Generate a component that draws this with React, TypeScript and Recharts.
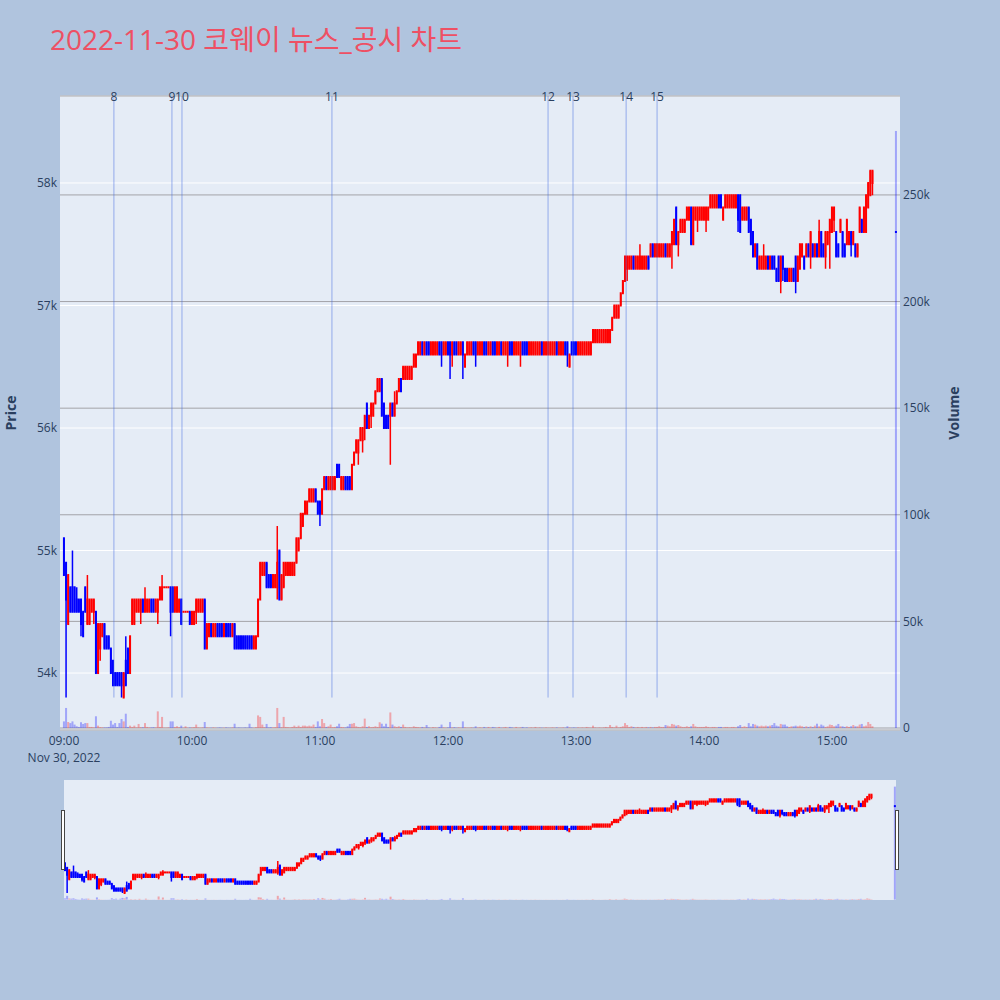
import React from 'react';
import { ComposedChart, Bar, XAxis, YAxis, ReferenceLine, CartesianGrid } from 'recharts';

const TITLE = '2022-11-30 코웨이 뉴스_공시 차트';
const SESSION_START = '09:00';

// 1-minute candles from 09:00 to 15:19, [open, high, low, close] in units of 100 won
const CANDLES: number[][] = [
  [551,551,548,548],[549,549,538,546],[544,548,544,548],[547,547,545,545],[547,550,545,545],[547,547,545,545],[546,547,545,545],[546,546,545,545],[546,546,543,544],[545,545,543,543],
  [547,547,545,545],[544,548,544,546],[544,546,544,546],[545,546,545,546],[545,546,544,546],[545,545,540,540],[540,544,540,544],[542,544,541,544],[543,544,543,544],[544,544,542,542],
  [543,543,542,542],[543,543,542,542],[542,542,540,540],[541,541,539,539],[540,540,539,539],[540,540,539,539],[540,540,539,539],[540,540,538,539],[538,540,538,540],[541,543,539,539],
  [542,542,540,540],[540,543,540,543],[544,546,544,546],[544,546,544,546],[545,546,545,546],[545,546,545,546],[545,546,544,546],[546,546,545,545],[545,547,545,546],[545,546,545,546],
  [545,546,545,546],[546,546,545,545],[546,546,545,545],[545,546,545,546],[545,546,544,546],[546,547,546,547],[546,548,546,547],[547,547,547,547],[547,547,547,547],[547,547,547,547],
  [547,547,543,545],[547,547,545,545],[545,547,545,547],[545,547,545,547],[545,546,545,546],[546,546,544,544],[545,545,545,545],[545,545,545,545],[545,545,545,545],[545,545,544,544],
  [544,545,544,545],[544,545,544,545],[545,546,544,546],[545,546,545,546],[545,546,545,546],[545,546,545,546],[546,546,542,542],[542,544,542,544],[543,544,543,544],[544,544,543,543],
  [543,544,543,544],[543,544,543,544],[544,544,543,543],[544,544,543,543],[544,544,543,543],[543,544,543,544],[544,544,543,543],[544,544,543,543],[544,544,543,543],[543,544,543,544],
  [544,544,542,542],[543,543,542,542],[543,543,542,542],[543,543,542,542],[543,543,542,542],[543,543,542,542],[543,543,542,542],[543,543,542,542],[543,543,542,542],[542,543,542,543],
  [542,543,542,543],[543,546,543,546],[546,549,546,549],[548,549,548,549],[548,549,548,549],[549,549,547,547],[548,548,547,547],[548,548,547,547],[547,548,547,548],[547,548,547,548],
  [547,552,546,549],[550,550,546,546],[546,548,546,548],[547,549,547,549],[548,549,548,549],[548,549,548,549],[548,549,548,549],[548,549,548,549],[548,549,548,549],[549,551,549,551],
  [550,551,550,551],[551,553,551,553],[552,553,552,553],[553,554,553,554],[553,554,553,554],[554,555,554,555],[554,555,554,555],[554,555,554,555],[555,555,554,554],[554,554,553,553],
  [554,554,552,553],[553,555,553,555],[555,556,555,556],[556,556,555,555],[555,556,555,556],[555,556,555,556],[555,556,555,556],[555,556,555,556],[557,557,556,556],[557,557,556,556],
  [555,556,555,556],[555,556,555,556],[556,556,555,555],[556,556,555,555],[556,556,555,555],[555,557,555,557],[557,558,557,558],[558,559,558,559],[558,559,557,559],[559,560,559,560],
  [559,560,558,560],[560,561,559,561],[562,562,560,560],[560,561,560,561],[561,562,560,562],[561,562,561,562],[562,563,562,563],[563,564,563,564],[563,564,563,564],[564,564,561,561],
  [562,562,560,560],[561,561,560,560],[561,561,560,560],[561,562,557,562],[562,562,561,561],[561,563,561,562],[562,563,562,563],[563,564,563,564],[564,564,563,563],[564,565,564,565],
  [564,565,564,565],[564,565,564,565],[564,565,564,565],[564,565,564,565],[565,566,565,566],[565,566,565,566],[566,567,566,567],[566,567,566,567],[567,567,566,566],[566,567,566,567],
  [567,567,566,566],[567,567,566,566],[566,567,566,567],[566,567,566,567],[566,567,566,567],[566,567,566,567],[567,567,566,566],[567,567,565,566],[566,567,566,567],[566,567,566,567],
  [567,567,566,566],[567,567,564,566],[566,567,565,567],[567,567,566,566],[567,567,566,566],[566,567,566,567],[566,567,566,567],[567,567,564,566],[565,566,565,566],[566,567,566,567],
  [566,567,566,567],[566,567,566,567],[567,567,566,566],[567,567,565,566],[566,567,566,567],[566,567,566,567],[566,567,566,567],[567,567,566,566],[567,567,566,566],[566,567,566,567],
  [566,567,566,567],[567,567,566,566],[567,567,566,566],[566,567,566,567],[566,567,566,567],[567,567,566,566],[566,567,566,567],[566,567,566,567],[566,567,565,567],[567,567,566,566],
  [567,567,566,566],[566,567,566,567],[566,567,566,567],[566,567,566,567],[566,567,565,567],[567,567,566,566],[567,567,566,566],[567,567,566,566],[566,567,566,567],[566,567,566,567],
  [566,567,566,567],[566,567,566,567],[566,567,566,567],[566,567,566,567],[567,567,566,566],[566,567,566,567],[566,567,566,567],[566,567,566,567],[566,567,566,567],[566,567,566,567],
  [566,567,566,567],[567,567,566,566],[566,567,566,567],[566,567,566,567],[566,567,566,567],[567,567,566,566],[567,567,565,566],[565,566,565,566],[567,567,566,566],[567,567,566,566],
  [567,567,566,566],[566,567,566,567],[566,567,566,567],[566,567,566,567],[566,567,566,567],[566,567,566,567],[566,567,566,567],[566,567,566,567],[567,568,567,568],[567,568,567,568],
  [567,568,567,568],[567,568,567,568],[567,568,567,568],[567,568,567,568],[567,568,567,568],[567,568,567,568],[567,568,567,568],[568,569,568,569],[569,570,569,570],[569,570,569,570],
  [569,570,569,570],[570,571,570,571],[571,572,571,572],[572,574,572,574],[573,574,572,574],[573,574,573,574],[573,574,573,574],[574,574,573,573],[573,574,573,574],[573,574,573,574],
  [573,575,573,574],[573,574,573,574],[573,574,573,574],[573,574,573,574],[574,574,573,573],[574,575,574,575],[575,575,574,574],[574,575,574,575],[574,575,574,575],[574,575,574,575],
  [574,575,574,575],[574,575,574,575],[575,575,574,574],[574,575,574,575],[574,575,574,575],[575,576,573,576],[575,577,575,577],[578,578,575,575],[575,576,574,576],[576,577,576,577],
  [576,577,576,577],[576,577,576,577],[577,578,577,578],[577,578,577,578],[578,578,575,575],[575,578,575,578],[577,578,577,578],[577,578,576,578],[577,578,577,578],[577,578,577,578],
  [577,578,577,578],[577,578,576,578],[577,578,577,578],[578,579,578,579],[578,579,578,579],[578,579,578,579],[578,579,578,579],[579,579,578,578],[579,579,578,578],[577,578,577,578],
  [578,579,578,579],[578,579,578,579],[578,579,578,579],[578,579,578,579],[578,579,578,579],[578,579,578,579],[579,579,576,577],[579,579,576,576],[577,578,577,578],[577,578,577,578],
  [577,578,577,578],[578,578,576,576],[577,577,575,575],[576,576,574,574],[574,575,574,575],[575,575,573,573],[573,574,573,574],[573,574,573,574],[573,575,573,574],[573,574,573,574],
  [574,574,573,573],[573,574,573,574],[574,574,573,573],[574,574,573,573],[573,573,572,572],[574,574,572,572],[572,574,571,574],[574,574,572,573],[573,573,572,572],[573,573,572,572],
  [572,573,572,573],[572,573,572,573],[573,573,572,572],[574,574,571,572],[572,574,572,574],[573,575,573,575],[574,575,574,575],[574,574,573,573],[574,575,574,575],[575,575,574,574],
  [574,576,573,576],[575,575,574,574],[574,575,574,575],[575,575,574,574],[574,577,574,576],[576,576,574,574],[575,575,574,574],[574,576,573,576],[575,576,575,576],[576,577,573,577],
  [576,578,576,578],[577,578,576,578],[576,576,574,574],[575,575,574,574],[576,577,576,577],[576,576,574,574],[575,575,574,574],[575,577,575,577],[575,576,575,576],[576,576,574,575],
  [575,576,575,576],[575,575,574,574],[574,575,574,575],[576,578,576,578],[577,577,576,576],[576,578,576,578],[576,579,576,579],[578,580,578,580],[579,581,579,581],[580,581,579,581],
];

// volume per minute, in units of 100 shares
const VOLUMES: number[] = [
  31,94,28,23,31,16,8,5,27,19,
  23,23,5,5,3,55,11,4,3,3,
  3,5,34,16,23,5,23,42,31,67,
  5,11,5,11,3,19,4,4,23,5,
  3,3,4,3,78,5,52,2,2,3,
  31,31,5,8,4,11,2,8,2,3,
  3,4,16,3,2,3,28,3,2,2,
  3,2,2,3,2,2,3,2,2,3,
  20,2,3,2,2,3,2,20,3,2,
  4,59,52,16,4,19,3,4,3,4,
  94,23,4,52,5,4,3,5,11,5,
  11,5,11,11,8,11,8,16,5,31,
  8,42,23,5,8,16,4,5,8,20,
  5,4,3,8,19,20,23,8,5,4,
  8,44,5,8,4,5,8,5,27,20,
  8,20,5,73,16,8,5,8,5,16,
  5,3,4,3,8,5,4,3,5,3,
  14,3,2,4,3,2,5,16,3,2,
  3,28,3,4,2,3,2,31,3,2,
  2,3,2,8,2,3,2,5,2,5,
  2,5,3,2,5,2,3,5,2,5,
  3,2,5,2,3,5,2,3,2,3,
  2,5,2,3,2,2,3,2,2,3,
  2,3,2,2,3,2,8,3,2,3,
  2,3,2,3,2,5,3,2,11,3,
  2,3,2,3,5,3,14,5,3,11,
  3,5,8,23,14,5,8,5,3,5,
  3,5,3,5,3,5,3,5,5,8,
  5,5,14,11,8,19,16,11,14,8,
  5,5,8,5,8,19,8,5,5,5,
  5,8,5,3,5,5,3,5,5,3,
  5,5,3,5,5,3,8,14,5,8,
  5,23,8,19,16,11,8,11,8,11,
  8,11,14,23,11,8,19,16,16,8,
  5,8,8,11,8,11,8,5,8,5,
  8,5,11,20,8,16,11,5,8,16,
  14,8,11,19,8,8,5,8,5,8,
  14,8,8,16,19,8,11,28,19,8,
];

// closing auction
const CLOSING_TIME = '15:30';
const CLOSING_CANDLE = [576, 576, 576, 576];
const CLOSING_VOLUME = 2800;

const NEWS = [
  { label: '8', time: '09:23:24' },
  { label: '9', time: '09:50:36' },
  { label: '10', time: '09:55:18' },
  { label: '11', time: '11:05:36' },
  { label: '12', time: '12:46:54' },
  { label: '13', time: '12:58:36' },
  { label: '14', time: '13:23:30' },
  { label: '15', time: '13:38:00' },
];

const TIME_TICKS = ['09:00', '10:00', '11:00', '12:00', '13:00', '14:00', '15:00'];
const PRICE_TICKS = [54000, 55000, 56000, 57000, 58000];
const VOLUME_TICKS = [0, 50000, 100000, 150000, 200000, 250000];

const RED = '#ff0000';
const BLUE = '#0000ff';
const TEXT = '#2a3f5f';
const FONT = '"Open Sans", "Noto Sans CJK KR", sans-serif';

const toMin = (s: string) => {
  const [h, m, sec = '0'] = s.split(':');
  return (Number(h) - 9) * 60 + Number(m) + Number(sec) / 60;
};

const start = toMin(SESSION_START);
const raw = [
  ...CANDLES.map((c, i) => ({ t: start + i, c, v: VOLUMES[i] })),
  { t: toMin(CLOSING_TIME), c: CLOSING_CANDLE, v: CLOSING_VOLUME },
];
const data = raw.map((r, i) => {
  const [o, h, l, c] = r.c.map((p) => p * 100);
  const prev = i > 0 ? raw[i - 1].c[3] * 100 : o;
  const up = c > o || (c === o && c >= prev);
  return { t: r.t, open: o, high: h, low: l, close: c, range: [l, h], vol: r.v * 100, up };
});

const PRICE_DOMAIN = [53535, 58710];
const VOL_DOMAIN = [-940, 296400];

// body is drawn like plotly's box: filled, with a 2px outline of the same colour
const Candle = (props: any) => {
  const { x, y, width, height, payload } = props;
  if (!payload || x == null) return null;
  const { open, close, high, low, up } = payload;
  const color = up ? RED : BLUE;
  const cx = x + width / 2;
  const top = Math.min(y, y + height);
  const h = Math.abs(height);
  const span = high - low;
  const py = (p: number) => (span === 0 ? top : top + ((high - p) / span) * h);
  const b1 = py(Math.max(open, close));
  const b2 = py(Math.min(open, close));
  return (
    <g>
      {h > 0 && <rect x={cx - 0.75} y={top} width={1.5} height={h} fill={color} />}
      <rect x={cx - 1} y={b1 - 1} width={2} height={b2 - b1 + 2} fill={color} />
    </g>
  );
};

const VolBar = (props: any) => {
  const { x, y, width, height, payload } = props;
  if (!payload || x == null) return null;
  const cx = x + width / 2;
  return (
    <rect
      x={cx - 1}
      y={Math.min(y, y + height)}
      width={2}
      height={Math.abs(height)}
      fill={payload.up ? RED : BLUE}
      fillOpacity={0.3}
    />
  );
};

const XTick = (props: any) => {
  const { x, y, payload } = props;
  const label = TIME_TICKS.find((s) => toMin(s) === payload.value) || '';
  return (
    <g>
      <text x={x} y={y + 15} textAnchor="middle" fill={TEXT} fontSize={12} fontFamily={FONT}>
        {label}
      </text>
      {payload.value === start && (
        <text x={x} y={y + 32} textAnchor="middle" fill={TEXT} fontSize={12} fontFamily={FONT}>
          Nov 30, 2022
        </text>
      )}
    </g>
  );
};

const NewsLabel = (props: any) => {
  const vb = props.viewBox || {};
  const x = vb.x1 !== undefined ? Math.min(vb.x1, vb.x2) : vb.x;
  const y = vb.y1 !== undefined ? Math.min(vb.y1, vb.y2) : vb.y;
  return (
    <text x={x} y={y + 5} textAnchor="middle" fill={TEXT} fontSize={12} fontFamily={FONT}>
      {props.value}
    </text>
  );
};

const axisTitle = (dx: number) => (props: any) => {
  const vb = props.viewBox || {};
  const cx = vb.x + dx;
  const cy = vb.y + vb.height / 2;
  return (
    <text
      x={cx}
      y={cy}
      transform={`rotate(-90, ${cx}, ${cy})`}
      textAnchor="middle"
      dominantBaseline="central"
      fill={TEXT}
      fontSize={14}
      fontWeight="bold"
      fontFamily={FONT}
    >
      {props.value}
    </text>
  );
};

const tickStyle = { fill: TEXT, fontSize: 12, fontFamily: FONT };

export default function App() {
  return (
    <div style={{ position: 'absolute', left: 0, top: 0, width: 1000, height: 1000, background: '#b0c4de', overflow: 'hidden' }}>
      <div
        style={{
          position: 'absolute',
          left: 50,
          top: 23,
          fontSize: 28,
          lineHeight: '32px',
          color: '#ee5064',
          fontFamily: FONT,
          whiteSpace: 'nowrap',
        }}
      >
        {TITLE}
      </div>

      <div style={{ position: 'absolute', left: 60, top: 96, width: 840, height: 634, background: '#e5ecf6' }} />

      <div style={{ position: 'absolute', left: 0, top: 0 }}>
        <ComposedChart width={1000} height={775} data={data} margin={{ top: 96, right: 0, bottom: 15, left: 0 }}>
          <CartesianGrid xAxisId="m" yAxisId="price" vertical={false} stroke="#ffffff" strokeWidth={1} />
          <CartesianGrid xAxisId="m" yAxisId="vol" vertical={false} stroke="#a3a3a8" strokeWidth={1} />
          <XAxis
            xAxisId="m"
            dataKey="t"
            type="number"
            domain={[-1.875, 391.875]}
            allowDataOverflow
            ticks={TIME_TICKS.map(toMin)}
            tick={<XTick />}
            tickSize={0}
            tickMargin={0}
            axisLine={false}
            tickLine={false}
            height={30}
          />
          <XAxis xAxisId="v" dataKey="t" type="number" domain={[-1.875, 391.875]} allowDataOverflow hide />
          <YAxis
            yAxisId="price"
            orientation="left"
            width={60}
            type="number"
            domain={PRICE_DOMAIN}
            allowDataOverflow
            ticks={PRICE_TICKS}
            tickFormatter={(v: number) => `${v / 1000}k`}
            tick={tickStyle}
            tickSize={0}
            tickMargin={3}
            axisLine={false}
            tickLine={false}
            label={{ value: 'Price', content: axisTitle(10) }}
          />
          <YAxis
            yAxisId="vol"
            orientation="right"
            width={100}
            type="number"
            domain={VOL_DOMAIN}
            allowDataOverflow
            ticks={VOLUME_TICKS}
            tickFormatter={(v: number) => (v === 0 ? '0' : `${v / 1000}k`)}
            tick={tickStyle}
            tickSize={0}
            tickMargin={3}
            axisLine={false}
            tickLine={false}
            label={{ value: 'Volume', content: axisTitle(53) }}
          />
          <Bar xAxisId="v" yAxisId="vol" dataKey="vol" barSize={2} shape={<VolBar />} isAnimationActive={false} />
          <Bar xAxisId="m" yAxisId="price" dataKey="range" barSize={2} shape={<Candle />} isAnimationActive={false} />
          {NEWS.map((n) => (
            <ReferenceLine
              key={n.label}
              xAxisId="m"
              yAxisId="price"
              segment={[
                { x: toMin(n.time), y: 53800 },
                { x: toMin(n.time), y: PRICE_DOMAIN[1] },
              ]}
              stroke="royalblue"
              strokeOpacity={0.5}
              strokeWidth={1}
              label={{ value: n.label, content: NewsLabel }}
            />
          ))}
        </ComposedChart>
      </div>

      <div style={{ position: 'absolute', left: 64, top: 780, width: 832, height: 120, background: '#e5ecf6' }}>
        <ComposedChart width={832} height={120} data={data} margin={{ top: 0, right: 0, bottom: 0, left: 0 }}>
          <XAxis xAxisId="m" dataKey="t" type="number" domain={[-0.5, 390.5]} allowDataOverflow hide />
          <XAxis xAxisId="v" dataKey="t" type="number" domain={[-0.5, 390.5]} allowDataOverflow hide />
          <YAxis yAxisId="price" type="number" domain={[53494, 58743]} allowDataOverflow hide />
          <YAxis yAxisId="vol" type="number" domain={VOL_DOMAIN} allowDataOverflow hide />
          <Bar xAxisId="v" yAxisId="vol" dataKey="vol" barSize={2} shape={<VolBar />} isAnimationActive={false} />
          <Bar xAxisId="m" yAxisId="price" dataKey="range" barSize={2} shape={<Candle />} isAnimationActive={false} />
        </ComposedChart>
      </div>

      <div style={{ position: 'absolute', left: 61, top: 810, width: 2, height: 58, background: '#fff', border: '1px solid #444' }} />
      <div style={{ position: 'absolute', left: 895, top: 810, width: 2, height: 58, background: '#fff', border: '1px solid #444' }} />
    </div>
  );
}
